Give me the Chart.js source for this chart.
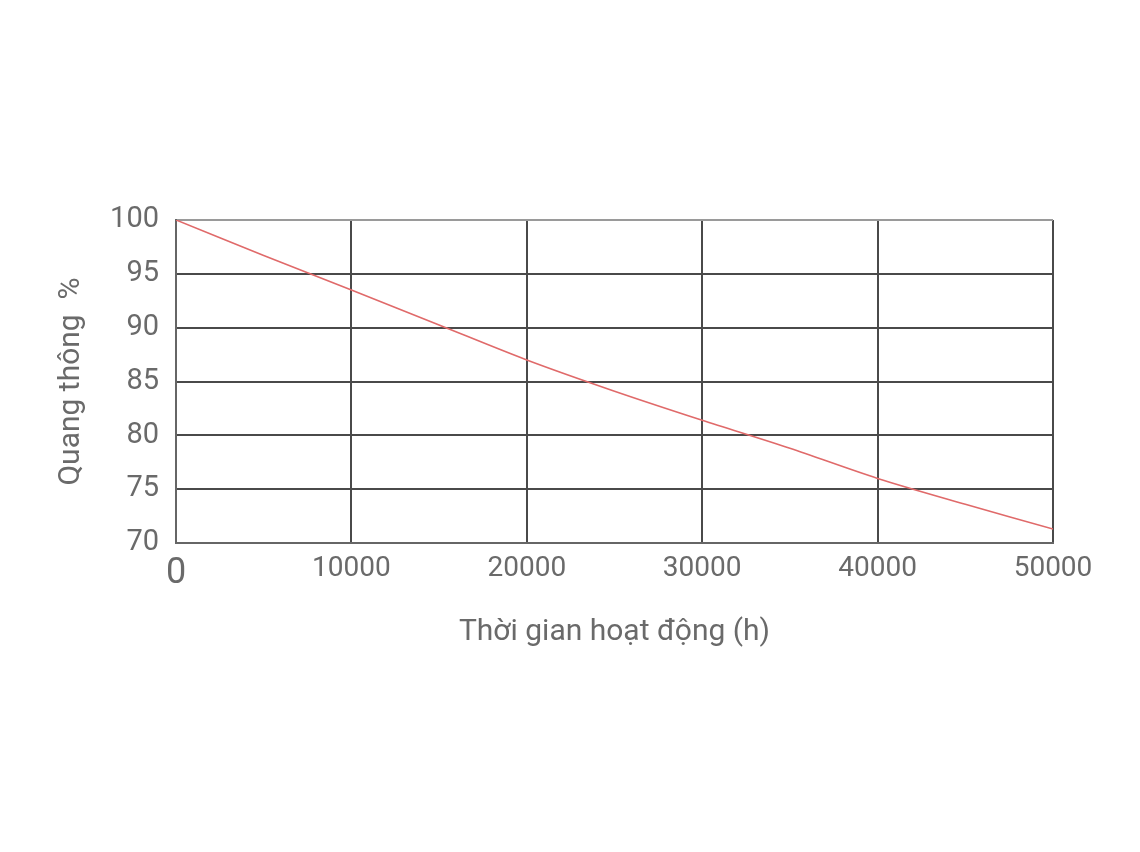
<!DOCTYPE html>
<html>
<head>
<meta charset="utf-8">
<script src="https://cdn.jsdelivr.net/npm/chart.js@4/dist/chart.umd.min.js"></script>
<style>
  html, body { margin: 0; padding: 0; background: #fff; }
  canvas { display: block; }
</style>
</head>
<body>
<canvas id="chart1" width="1140" height="852"></canvas>
<script>
// operating hours and relative luminous flux (%)
const hours = [0, 5000, 10000, 15000, 20000, 25000, 30000, 35000, 40000, 45000, 50000];
const flux = [100, 96.7, 93.5, 90.25, 87.0, 84.1, 81.4, 78.8, 76.0, 73.6, 71.3];

const xTitle = 'Thời gian hoạt động (h)';
const yTitle = 'Quang thông  %';

const textColor = '#6a6a6a';
const gridColor = '#4a4a4a';

const points = hours.map((h, i) => ({ x: h, y: flux[i] }));

const ctx = document.getElementById('chart1').getContext('2d');
const chart1 = new Chart(ctx, {
  type: 'line',
  data: {
    datasets: [{
      data: points,
      borderColor: '#e06a6a',
      borderWidth: 1.6,
      pointRadius: 0,
      tension: 0.3,
      fill: false,
    }],
  },
  options: {
    responsive: false,
    animation: false,
    layout: {
      padding: { left: 53, top: 220, right: 87, bottom: 202 },
    },
    plugins: {
      legend: { display: false },
      tooltip: { enabled: false },
    },
    scales: {
      x: {
        type: 'linear',
        min: 0,
        max: 50000,
        afterFit(scale) { scale.height = 852 - 202 - 543; },
        ticks: {
          stepSize: 10000,
          padding: 9,
          color: textColor,
          maxRotation: 0,
          callback: value => String(value),
          font: ctx2 => ({
            family: 'Roboto',
            size: ctx2.tick && ctx2.tick.value === 0 ? 36 : 28,
          }),
        },
        grid: {
          color: gridColor,
          lineWidth: 2,
          drawTicks: false,
        },
        border: { color: '#666', width: 2 },
        title: {
          display: true,
          text: xTitle,
          color: textColor,
          padding: 0,
          font: { family: 'Roboto', size: 30 },
        },
      },
      y: {
        min: 70,
        max: 100,
        afterFit(scale) { scale.width = 176 - 53; },
        ticks: {
          stepSize: 5,
          padding: 17,
          color: textColor,
          font: { family: 'Roboto', size: 29 },
        },
        grid: {
          color: c => (c.tick && c.tick.value === 100 ? '#9a9a9a' : gridColor),
          lineWidth: 2,
          drawTicks: false,
        },
        border: { color: '#666', width: 2 },
        title: {
          display: true,
          text: yTitle,
          color: textColor,
          padding: 0,
          font: { family: 'Roboto', size: 30 },
        },
      },
    },
  },
});
</script>
</body>
</html>
